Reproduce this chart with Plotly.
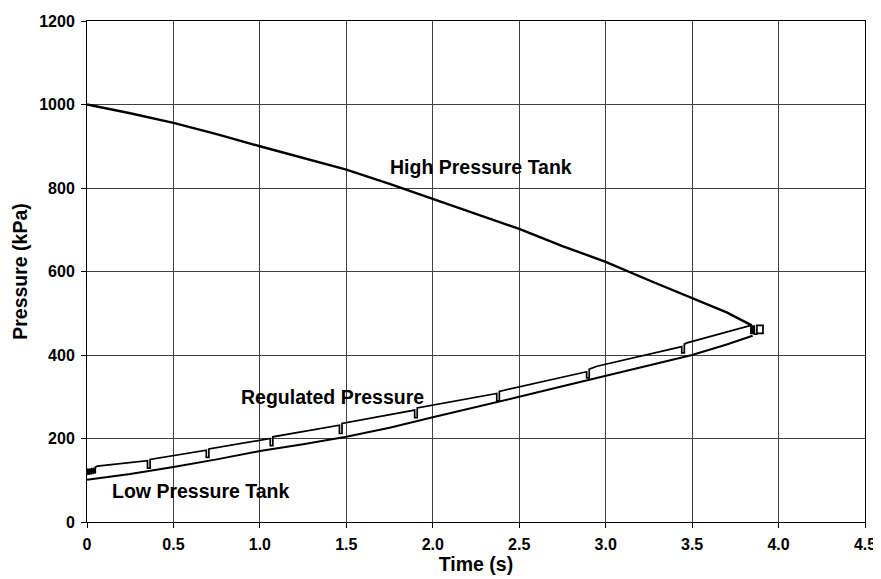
import plotly.graph_objects as go

# ---- data ----
high_t = [0.0, 0.25, 0.5, 0.75, 1.0, 1.25, 1.5, 1.75, 2.0, 2.25, 2.5, 2.75, 3.0, 3.25, 3.5, 3.7, 3.845]
high_p = [1000, 979, 956, 929, 900, 872, 844, 810, 774, 739, 702, 661, 623, 579, 537, 502, 471]

low_t = [0.0, 0.25, 0.5, 0.75, 1.0, 1.25, 1.5, 1.75, 2.0, 2.25, 2.5, 2.75, 3.0, 3.25, 3.5, 3.7, 3.85]
low_p = [101, 115, 132, 150, 170, 186, 204, 226, 251, 275, 300, 325, 350, 375, 400, 425, 446]

reg_t = [0.0, 0.0, 0.012, 0.012, 0.024, 0.024, 0.036, 0.036, 0.048, 0.048, 0.06,
         0.35, 0.35, 0.365, 0.365,
         0.69, 0.69, 0.705, 0.705,
         1.06, 1.06, 1.075, 1.075,
         1.46, 1.46, 1.475, 1.475,
         1.895, 1.895, 1.91, 1.91,
         2.37, 2.37, 2.385, 2.385,
         2.89, 2.89, 2.905, 2.905, 2.95,
         3.44, 3.44, 3.455, 3.455, 3.47,
         3.84, 3.84, 3.85, 3.85, 3.86, 3.86, 3.875, 3.875, 3.91, 3.91, 3.875]
reg_p = [112, 128, 113, 128, 114, 129, 115, 130, 116, 131, 134,
         147, 129, 129, 150,
         172, 155, 155, 175,
         200, 183, 183, 204,
         232, 212, 212, 236,
         268, 250, 250, 273,
         308, 290, 290, 313,
         360, 345, 345, 366, 373,
         420, 405, 405, 426, 429,
         471, 450, 471, 450, 471, 450, 450, 471, 471, 452, 452]

x_ticks = [0, 0.5, 1.0, 1.5, 2.0, 2.5, 3.0, 3.5, 4.0, 4.5]
x_tick_labels = ["0", "0.5", "1.0", "1.5", "2.0", "2.5", "3.0", "3.5", "4.0", "4.5"]
y_ticks = [0, 200, 400, 600, 800, 1000, 1200]

labels = ["High Pressure Tank", "Regulated Pressure", "Low Pressure Tank"]
label_t = [2.28, 1.42, 0.66]
label_p = [851, 299, 74]

FONT = "Liberation Sans, Arial, sans-serif"

fig = go.Figure()
fig.add_trace(go.Scatter(x=high_t, y=high_p, mode="lines",
                         line=dict(color="black", width=2.4), name=labels[0]))
fig.add_trace(go.Scatter(x=low_t, y=low_p, mode="lines",
                         line=dict(color="black", width=2), name=labels[2]))
fig.add_trace(go.Scatter(x=reg_t, y=reg_p, mode="lines",
                         line=dict(color="black", width=1.7), name=labels[1]))

for txt, tx, ty in zip(labels, label_t, label_p):
    fig.add_annotation(x=tx, y=ty, text="<b>%s</b>" % txt, showarrow=False,
                       font=dict(family=FONT, size=19.5, color="black"))

# the page body adds an 8px offset, so margins are compensated
fig.update_layout(
    width=881, height=579,
    margin=dict(l=79, r=24, t=13, b=65),
    paper_bgcolor="white", plot_bgcolor="white",
    showlegend=False,
    font=dict(family=FONT, color="black"),
)
fig.update_xaxes(
    range=[0, 4.5], tickvals=x_ticks, ticktext=["<b>%s</b>" % s for s in x_tick_labels],
    tickfont=dict(family=FONT, size=16, color="black"), ticklabelstandoff=3,
    showgrid=True, gridcolor="#404040", gridwidth=1,
    showline=True, linecolor="black", linewidth=1, mirror=True,
    ticks="outside", ticklen=5, tickcolor="black", zeroline=False, automargin=False,
    title=dict(text="<b>Time (s)</b>", font=dict(family=FONT, size=19.5, color="black"), standoff=4),
)
fig.update_yaxes(
    range=[0, 1200], tickvals=y_ticks, ticktext=["<b>%d</b>" % v for v in y_ticks],
    tickfont=dict(family=FONT, size=16, color="black"), ticklabelstandoff=3,
    showgrid=True, gridcolor="#404040", gridwidth=1,
    showline=True, linecolor="black", linewidth=1, mirror=True,
    ticks="outside", ticklen=5, tickcolor="black", zeroline=False, automargin=False,
    title=dict(text="<b>Pressure (kPa)</b>", font=dict(family=FONT, size=19.5, color="black"), standoff=6),
)

fig.write_html("out.html")
